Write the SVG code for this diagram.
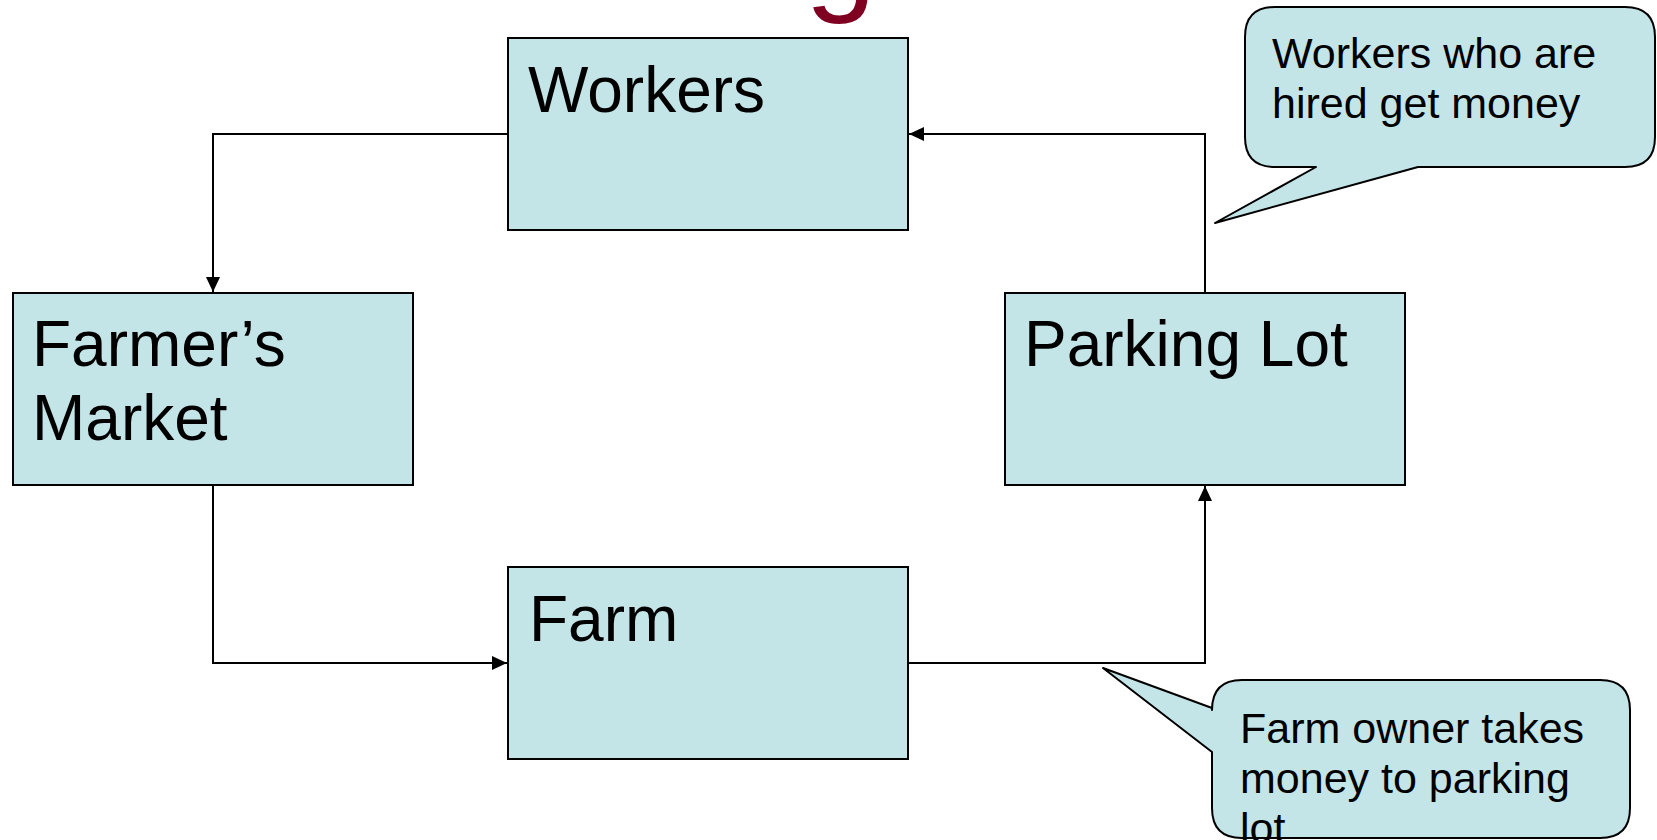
<svg xmlns="http://www.w3.org/2000/svg" width="1657" height="840" viewBox="0 0 1657 840">
<style>
.box{fill:#C4E5E8;stroke:#000;stroke-width:2}
.lbl{font-family:"Liberation Sans",Arial,sans-serif;font-size:64px;fill:#000}
.call{fill:#C4E5E8;stroke:#000;stroke-width:2;stroke-linejoin:round}
.ct{font-family:"Liberation Sans",Arial,sans-serif;font-size:43px;fill:#000}
.con{fill:none;stroke:#000;stroke-width:2}
</style>
<defs>
<marker id="ah" markerWidth="15" markerHeight="14" refX="15" refY="7" orient="auto" markerUnits="userSpaceOnUse">
<path d="M0,0 L15,7 L0,14 Z" fill="#000"/>
</marker>
</defs>
<rect width="1657" height="840" fill="#fff"/>
<text x="805" y="-3" font-family="Liberation Sans,Arial,sans-serif" font-size="128" fill="#7F0020">g</text>
<g id="connectors">
<path class="con" d="M508,134 H213 V292" marker-end="url(#ah)"/>
<path class="con" d="M213,485 V663 H507" marker-end="url(#ah)"/>
<path class="con" d="M909,663 H1205 V486" marker-end="url(#ah)"/>
<path class="con" d="M1205,293 V134 H909" marker-end="url(#ah)"/>
</g>
<g id="workers">
<rect class="box" x="508" y="38" width="400" height="192"/>
<text class="lbl" x="528" y="112">Workers</text>
</g>
<g id="farmers-market">
<rect class="box" x="13" y="293" width="400" height="192"/>
<text class="lbl" x="32" y="366">Farmer’s</text>
<text class="lbl" x="32" y="440">Market</text>
</g>
<g id="parking-lot">
<rect class="box" x="1005" y="293" width="400" height="192"/>
<text class="lbl" x="1024" y="366">Parking Lot</text>
</g>
<g id="farm">
<rect class="box" x="508" y="567" width="400" height="192"/>
<text class="lbl" x="529" y="641">Farm</text>
</g>
<g id="callout-workers">
<path class="call" d="M1275,7 H1625 Q1655,7 1655,37 V137 Q1655,167 1625,167 H1418 L1215,223 L1316,167 H1275 Q1245,167 1245,137 V37 Q1245,7 1275,7 Z"/>
<text class="ct" x="1272" y="68">Workers who are</text>
<text class="ct" x="1272" y="118">hired get money</text>
</g>
<g id="callout-farm">
<path class="call" d="M1242,680 H1600 Q1630,680 1630,710 V808 Q1630,838 1600,838 H1242 Q1212,838 1212,808 V752 L1103,668 L1212,708 V710 Q1212,680 1242,680 Z"/>
<text class="ct" x="1240" y="743">Farm owner takes</text>
<text class="ct" x="1240" y="793">money to parking</text>
<text class="ct" x="1240" y="843">lot</text>
</g>
</svg>
